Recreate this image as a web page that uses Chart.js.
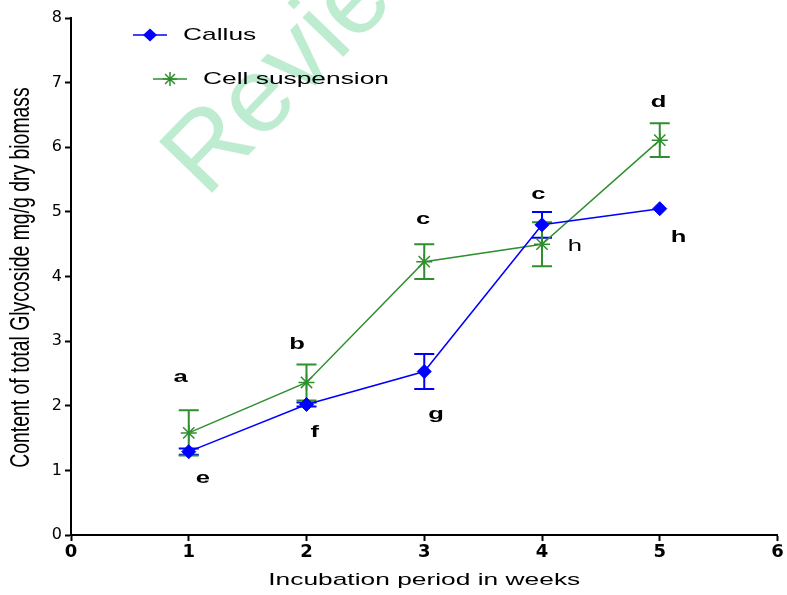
<!DOCTYPE html>
<html>
<head>
<meta charset="utf-8">
<script src="https://cdn.jsdelivr.net/npm/chart.js@4"></script>
<style>
  html, body { margin: 0; padding: 0; background: #fff; }
  #wrap { width: 787px; height: 595px; }
</style>
</head>
<body>
<div id="wrap"><canvas id="chart" width="787" height="595"></canvas></div>
<script>
// データ
const weeks = [1, 2, 3, 4, 5];
const callus = [1.29, 2.02, 2.53, 4.80, 5.05];
const callusErr = [0.05, 0.03, 0.27, 0.20, 0.0];
const cellSusp = [1.58, 2.36, 4.23, 4.50, 6.11];
const cellSuspErr = [0.35, 0.28, 0.27, 0.34, 0.26];
const xTicks = [0, 1, 2, 3, 4, 5, 6];
const yTicks = [0, 1, 2, 3, 4, 5, 6, 7, 8];

// 有意差の文字 (データ座標)
const letterText = ["a", "b", "c", "c", "d", "e", "f", "g", "h", "h"];
const letterX = [0.93, 1.92, 2.99, 3.97, 4.99, 1.12, 2.07, 3.10, 4.28, 5.16];
const letterY = [2.43, 2.94, 4.88, 5.26, 6.69, 0.87, 1.59, 1.86, 4.46, 4.60];
const letterBold = [true, true, true, true, true, true, true, true, false, true];

const BLUE = "#0000ff";
const GREEN = "#2f8f2f";
const FONT = "'Liberation Sans', Arial, sans-serif";
const SX = 1.55; // 元画像の文字は横に引き伸ばされている

// 横に伸ばした文字を描く
function wideText(ctx, text, x, y, sx, align) {
  ctx.save();
  ctx.translate(x, y);
  ctx.scale(sx, 1);
  ctx.textAlign = align;
  ctx.fillText(text, 0, 0);
  ctx.restore();
}

// 透かし
const watermark = {
  id: "watermark",
  beforeDraw(chart) {
    const ctx = chart.ctx;
    ctx.save();
    ctx.translate(206, 199);
    ctx.rotate(-46 * Math.PI / 180);
    ctx.fillStyle = "rgb(190, 236, 209)";
    ctx.font = "107px " + FONT;
    ctx.textBaseline = "alphabetic";
    ctx.fillText("Review", 0, 0);
    ctx.restore();
  }
};

// エラーバー
const errorBars = {
  id: "errorBars",
  beforeDatasetsDraw(chart) {
    const ctx = chart.ctx;
    const xs = chart.scales.x, ys = chart.scales.y;
    const sets = [[callus, callusErr, BLUE], [cellSusp, cellSuspErr, GREEN]];
    ctx.save();
    sets.forEach(function (s) {
      ctx.strokeStyle = s[2];
      ctx.lineWidth = 2;
      s[0].forEach(function (v, i) {
        if (!s[1][i]) return;
        const px = xs.getPixelForValue(weeks[i]);
        const top = ys.getPixelForValue(v + s[1][i]);
        const bot = ys.getPixelForValue(v - s[1][i]);
        ctx.beginPath();
        ctx.moveTo(px, top); ctx.lineTo(px, bot);
        ctx.moveTo(px - 10, top); ctx.lineTo(px + 10, top);
        ctx.moveTo(px - 10, bot); ctx.lineTo(px + 10, bot);
        ctx.stroke();
      });
    });
    ctx.restore();
  }
};

// 文字・軸タイトル・凡例
const extras = {
  id: "extras",
  afterDatasetsDraw(chart) {
    const ctx = chart.ctx;
    const xs = chart.scales.x, ys = chart.scales.y;
    const area = chart.chartArea;
    ctx.save();
    ctx.fillStyle = "#000";
    ctx.textBaseline = "middle";
    letterText.forEach(function (t, i) {
      ctx.font = (letterBold[i] ? "bold " : "") + "16px " + FONT;
      wideText(ctx, t, xs.getPixelForValue(letterX[i]), ys.getPixelForValue(letterY[i]), 1.6, "center");
    });

    // 軸タイトル
    ctx.font = "17px " + FONT;
    wideText(ctx, "Incubation period in weeks", (area.left + area.right) / 2, 580, SX, "center");
    ctx.save();
    ctx.translate(21, (area.top + area.bottom) / 2 + 1);
    ctx.scale(1.45, 1);
    ctx.rotate(-Math.PI / 2);
    ctx.font = "19.4px " + FONT;
    ctx.textAlign = "center";
    ctx.fillText("Content of total Glycoside mg/g dry biomass", 0, 0);
    ctx.restore();

    // 凡例: Callus
    ctx.strokeStyle = BLUE;
    ctx.fillStyle = BLUE;
    ctx.lineWidth = 1.5;
    ctx.beginPath();
    ctx.moveTo(133, 35); ctx.lineTo(167, 35);
    ctx.stroke();
    ctx.beginPath();
    ctx.moveTo(150, 28.5); ctx.lineTo(157, 35); ctx.lineTo(150, 41.5); ctx.lineTo(143, 35);
    ctx.closePath();
    ctx.fill();
    // 凡例: Cell suspension
    ctx.strokeStyle = GREEN;
    ctx.beginPath();
    ctx.moveTo(153, 79); ctx.lineTo(187, 79);
    ctx.stroke();
    ctx.beginPath();
    for (let k = 0; k < 4; k++) {
      const a = k * Math.PI / 4;
      ctx.moveTo(170 - 7 * Math.cos(a), 79 - 7 * Math.sin(a));
      ctx.lineTo(170 + 7 * Math.cos(a), 79 + 7 * Math.sin(a));
    }
    ctx.stroke();

    ctx.fillStyle = "#000";
    ctx.font = "17px " + FONT;
    wideText(ctx, "Callus", 183, 35, SX, "left");
    wideText(ctx, "Cell suspension", 203, 79, SX, "left");
    ctx.restore();
  }
};

const ctx = document.getElementById("chart").getContext("2d");
new Chart(ctx, {
  type: "line",
  data: {
    datasets: [
      {
        label: "Callus",
        data: weeks.map(function (w, i) { return { x: w, y: callus[i] }; }),
        borderColor: BLUE,
        backgroundColor: BLUE,
        borderWidth: 1.5,
        pointStyle: "rectRot",
        pointRadius: 7,
        pointBorderWidth: 1,
        tension: 0
      },
      {
        label: "Cell suspension",
        data: weeks.map(function (w, i) { return { x: w, y: cellSusp[i] }; }),
        borderColor: GREEN,
        backgroundColor: GREEN,
        borderWidth: 1.5,
        pointStyle: "star",
        pointRadius: 8,
        pointBorderWidth: 1.5,
        tension: 0
      }
    ]
  },
  options: {
    responsive: false,
    animation: false,
    layout: { padding: { top: 18, right: 8, left: 0, bottom: 0 } },
    plugins: { legend: { display: false }, tooltip: { enabled: false } },
    scales: {
      x: {
        type: "linear",
        min: 0, max: 6,
        afterBuildTicks: function (axis) { axis.ticks = xTicks.map(function (v) { return { value: v }; }); },
        afterFit: function (axis) { axis.height = 60; },
        border: { color: "#000", width: 2 },
        grid: { drawOnChartArea: false, color: "#000", tickLength: 6, tickWidth: 2 },
        ticks: { color: "#000", font: { family: "'DejaVu Sans', sans-serif", size: 18, weight: "bold" }, padding: 1, maxRotation: 0 }
      },
      y: {
        min: 0, max: 8,
        afterBuildTicks: function (axis) { axis.ticks = yTicks.map(function (v) { return { value: v }; }); },
        afterFit: function (axis) { axis.width = 71; },
        border: { color: "#000", width: 2 },
        grid: { drawOnChartArea: false, color: "#000", tickLength: 6, tickWidth: 2 },
        ticks: { color: "#000", font: { family: "'DejaVu Sans', sans-serif", size: 16 }, padding: 3 }
      }
    }
  },
  plugins: [watermark, errorBars, extras]
});
</script>
</body>
</html>
